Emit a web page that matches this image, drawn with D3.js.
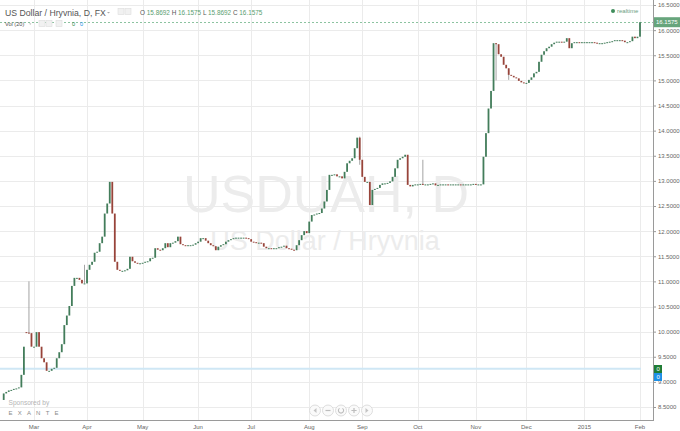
<!DOCTYPE html>
<html><head><meta charset="utf-8">
<script src="https://cdn.jsdelivr.net/npm/d3@7"></script>
<style>body{margin:0;background:#fff}svg{display:block;font-family:"Liberation Sans",Arial,sans-serif}</style>
</head><body><svg id="c" width="680" height="431"></svg>
<script>
// ---- data ----
const startDate = "2014-02-13";
const endDate = "2015-02-03";
const firstOpen = 8.64;
const closes = [
 8.77, 8.80, 8.83, 8.84, 8.86, 8.87, 8.89, 9.14, 9.70, 9.98,
 9.97, 9.70, 9.70, 9.99, 9.70, 9.47, 9.39, 9.22, 9.22, 9.26,
 9.28, 9.47, 9.59, 9.75, 10.13, 10.32, 10.51, 10.91, 11.07, 11.07,
 11.03, 10.96, 10.96, 11.23, 11.33, 11.39, 11.57, 11.59, 11.76, 11.89,
 12.35, 12.55, 12.98, 12.35, 11.39, 11.23, 11.21, 11.21, 11.22, 11.25,
 11.49, 11.40, 11.37, 11.36, 11.36, 11.37, 11.39, 11.40, 11.46, 11.47,
 11.66, 11.63, 11.62, 11.66, 11.76, 11.68, 11.76, 11.77, 11.80, 11.89,
 11.74, 11.72, 11.71, 11.72, 11.72, 11.73, 11.76, 11.79, 11.86, 11.86,
 11.81, 11.76, 11.72, 11.70, 11.62, 11.69, 11.72, 11.74, 11.79, 11.82,
 11.84, 11.86, 11.87, 11.87, 11.87, 11.87, 11.86, 11.84, 11.79, 11.78,
 11.77, 11.77, 11.76, 11.69, 11.66, 11.66, 11.65, 11.66, 11.66, 11.68,
 11.69, 11.71, 11.66, 11.65, 11.63, 11.62, 11.72, 11.82, 11.92, 12.00,
 11.96, 12.19, 12.32, 12.33, 12.35, 12.36, 12.45, 12.59, 12.82, 13.12,
 13.12, 13.13, 13.09, 13.09, 13.05, 13.18, 13.35, 13.40, 13.45, 13.65,
 13.86, 13.42, 13.08, 12.98, 12.98, 12.52, 12.82, 12.84, 12.86, 12.92,
 12.95, 12.95, 12.96, 12.99, 13.08, 13.25, 13.42, 13.45, 13.48, 13.52,
 12.92, 12.89, 12.92, 12.93, 12.93, 12.94, 12.93, 12.93, 12.93, 12.94,
 12.95, 12.91, 12.92, 12.93, 12.93, 12.93, 12.92, 12.93, 12.93, 12.93,
 12.93, 12.92, 12.93, 12.93, 12.93, 12.93, 12.94, 12.93, 12.93, 12.93,
 13.48, 13.95, 14.44, 14.79, 15.74, 15.72, 15.52, 15.47, 15.31, 15.24,
 15.11, 15.09, 15.06, 15.04, 14.99, 14.96, 14.94, 14.95, 15.01, 15.06,
 15.14, 15.17, 15.37, 15.51, 15.58, 15.64, 15.67, 15.72, 15.75, 15.77,
 15.77, 15.76, 15.77, 15.84, 15.64, 15.74, 15.76, 15.76, 15.75, 15.76,
 15.76, 15.76, 15.76, 15.76, 15.75, 15.74, 15.74, 15.74, 15.75, 15.76,
 15.77, 15.78, 15.80, 15.80, 15.80, 15.79, 15.76, 15.76, 15.78, 15.87,
 15.84, 15.8692, 16.1575
];
const gapIdx = [9];
const gapOpen = [9.99];
const wickIdx = [10, 32, 141, 166, 195, 200];
const wickHigh = [11.00, 11.33, 13.88, 13.42, 15.74, 15.11];
const wickLow = [9.97, 10.96, 13.32, 12.93, 15.00, 15.01];
const yTicks = [8.5, 9.0, 9.5, 10.0, 10.5, 11.0, 11.5, 12.0, 12.5, 13.0, 13.5, 14.0, 14.5, 15.0, 15.5, 16.0, 16.5];
const monthLabels = ["Mar","Apr","May","Jun","Jul","Aug","Sep","Oct","Nov","Dec","2015","Feb"];
const monthStarts = ["2014-03-01","2014-04-01","2014-05-01","2014-06-01","2014-07-01","2014-08-01","2014-09-01","2014-10-01","2014-11-01","2014-12-01","2015-01-01","2015-02-01"];
const ohlcLabels = ["O","H","L","C"];
const ohlcValues = ["15.8692","16.1575","15.8692","16.1575"];
const lastPrice = 16.1575;
const volValues = ["0","0"];
const volLineValue = 9.26;

// ---- build ----
const parse = d3.utcParse("%Y-%m-%d");
const dates = d3.utcDays(parse(startDate), parse(endDate)).filter(d => d.getUTCDay() % 6 !== 0);
const bars = closes.map((c, i) => {
  let o = i === 0 ? firstOpen : closes[i - 1];
  const g = gapIdx.indexOf(i);
  if (g >= 0) o = gapOpen[g];
  let h = Math.max(o, c), l = Math.min(o, c);
  const w = wickIdx.indexOf(i);
  if (w >= 0) { h = Math.max(h, wickHigh[w]); l = Math.min(l, wickLow[w]); }
  return {i, date: dates[i], o, c, h, l};
});

const W = 680, H = 431, plotR = 653, plotB = 420;
const svg = d3.select("#c");
svg.append("rect").attr("width", W).attr("height", H).attr("fill", "#fff");

const x = d3.scaleLinear().domain([12, 252]).range([34, 640]);
const y = d3.scaleLinear().domain([8.5, 16.5]).range([407, 5]);

const monthIdx = monthStarts.map(s => d3.bisectLeft(dates, parse(s)));

// grid
const grid = svg.append("g").attr("stroke", "#ebebeb").attr("stroke-width", 1);
grid.selectAll("line.h").data(yTicks).join("line")
  .attr("x1", 0).attr("x2", plotR)
  .attr("y1", d => Math.round(y(d)) + 0.5).attr("y2", d => Math.round(y(d)) + 0.5);
grid.selectAll("line.v").data(monthIdx).join("line")
  .attr("x1", d => Math.round(x(d)) + 0.5).attr("x2", d => Math.round(x(d)) + 0.5)
  .attr("y1", 0).attr("y2", plotB);

// watermark
svg.append("text").attr("x", 326).attr("y", 212).attr("text-anchor", "middle")
  .attr("font-size", 52).attr("fill", "#ececec").text("USDUAH, D");
svg.append("text").attr("x", 325).attr("y", 250).attr("text-anchor", "middle")
  .attr("font-size", 27).attr("fill", "#ececec").text("US Dollar / Hryvnia");

// volume line
svg.append("line").attr("x1", 0).attr("x2", 641)
  .attr("y1", y(volLineValue)).attr("y2", y(volLineValue))
  .attr("stroke", "#cfe7f5").attr("stroke-width", 2);

// last price line
svg.append("line").attr("x1", 0).attr("x2", plotR)
  .attr("y1", Math.round(y(lastPrice)) + 0.5).attr("y2", Math.round(y(lastPrice)) + 0.5)
  .attr("stroke", "#8cc3a0").attr("stroke-width", 1).attr("stroke-dasharray", "2,2");

// candles
const upC = "#437d5b", dnC = "#98443a";
const cg = svg.append("g");
cg.selectAll("line.w").data(bars.filter(b => b.h - b.l > Math.abs(b.o - b.c) + 0.02)).join("line")
  .attr("x1", d => x(d.i)).attr("x2", d => x(d.i))
  .attr("y1", d => y(d.h)).attr("y2", d => y(d.l))
  .attr("stroke", "#9a9a9a").attr("stroke-width", 0.9);
cg.selectAll("rect").data(bars).join("rect")
  .attr("x", d => x(d.i) - 0.9).attr("width", 1.8)
  .attr("y", d => y(Math.max(d.o, d.c)))
  .attr("height", d => Math.max(1, Math.abs(y(d.o) - y(d.c))))
  .attr("fill", d => d.c >= d.o ? upC : dnC);

// axes
svg.append("line").attr("x1", plotR + 0.5).attr("x2", plotR + 0.5).attr("y1", 0).attr("y2", plotB + 1)
  .attr("stroke", "#9a9a9a");
svg.append("line").attr("x1", 0).attr("x2", plotR + 1).attr("y1", plotB + 0.5).attr("y2", plotB + 0.5)
  .attr("stroke", "#9a9a9a");
const yAxis = d3.axisRight(y).tickValues(yTicks).tickFormat(d3.format(".4f")).tickSize(3).tickPadding(2);
const ya = svg.append("g").attr("transform", `translate(${plotR},0)`).call(yAxis);
ya.select(".domain").remove();
ya.selectAll("line").attr("stroke", "#9a9a9a");
ya.selectAll("text").attr("font-size", 6).attr("fill", "#666").attr("font-family", "Liberation Sans, Arial, sans-serif");

const xa = svg.append("g");
xa.selectAll("text").data(monthIdx).join("text")
  .attr("x", d => x(d)).attr("y", 428.5).attr("text-anchor", "middle")
  .attr("font-size", 6).attr("fill", "#666").text((d, k) => monthLabels[k]);

// volume badges
const vb = [{c: "#1f7d36", yv: 369}, {c: "#1e90e6", yv: 377}];
vb.forEach((b, k) => {
  svg.append("rect").attr("x", 654).attr("y", b.yv - 4).attr("width", 8).attr("height", 8).attr("fill", b.c);
  svg.append("text").attr("x", 656.5).attr("y", b.yv + 2).attr("font-size", 6).attr("fill", "#fff").text(volValues[k]);
});

// price badge
svg.append("rect").attr("x", 654).attr("y", y(lastPrice) - 5).attr("width", 26).attr("height", 10).attr("fill", "#67a57c");
svg.append("text").attr("x", 656).attr("y", y(lastPrice) + 2.2).attr("font-size", 6).attr("fill", "#fff").text(d3.format(".4f")(lastPrice));

// header
const hdr = svg.append("g");
hdr.append("text").attr("x", 5).attr("y", 15.5).attr("font-size", 8.7).attr("fill", "#555").text("US Dollar / Hryvnia, D, FX");
hdr.append("path").attr("d", "M107,12 l3,0 l-1.5,1.6z").attr("fill", "#aaa");
[118, 125].forEach(xx => hdr.append("rect").attr("x", xx).attr("y", 8.5).attr("width", 6).attr("height", 6)
  .attr("fill", "#f1f1f1").attr("stroke", "#ddd").attr("stroke-width", 0.6));
const t = hdr.append("text").attr("x", 140).attr("y", 14.5).attr("font-size", 6.4);
ohlcLabels.forEach((l, k) => {
  t.append("tspan").attr("fill", "#555").text((k ? " " : "") + l + " ");
  t.append("tspan").attr("fill", "#5a9e70").text(ohlcValues[k]);
});
hdr.append("text").attr("x", 5).attr("y", 26).attr("font-size", 5.6).attr("fill", "#555").text("Vol (20)");
hdr.append("path").attr("d", "M29,23.5 l2.4,0 l-1.2,1.3z").attr("fill", "#aaa");
[39, 46, 56].forEach(xx => hdr.append("rect").attr("x", xx).attr("y", 20.5).attr("width", 6).attr("height", 6)
  .attr("fill", "#f1f1f1").attr("stroke", "#ddd").attr("stroke-width", 0.6));
hdr.append("text").attr("x", 72).attr("y", 26).attr("font-size", 5.6).attr("fill", "#2e8b4a").text(volValues[0]);
hdr.append("text").attr("x", 80).attr("y", 26).attr("font-size", 5.6).attr("fill", "#1e90e6").text(volValues[1]);

// realtime
svg.append("circle").attr("cx", 613).attr("cy", 11).attr("r", 2).attr("fill", "#3f8d5c");
svg.append("text").attr("x", 617).attr("y", 13).attr("font-size", 6).attr("fill", "#6aa07f").text("realtime");

// sponsor
svg.append("text").attr("x", 8.5).attr("y", 405).attr("font-size", 6.6).attr("fill", "#b5b5b5").text("Sponsored by");
svg.append("text").attr("x", 8.5).attr("y", 414.5).attr("font-size", 6).attr("letter-spacing", 5.2).attr("fill", "#8a8a8a").text("EXANTE");

// nav buttons
const navX = [315, 328, 341, 354, 367];
const ng = svg.append("g");
navX.forEach((cx, k) => {
  ng.append("circle").attr("cx", cx).attr("cy", 410.5).attr("r", 5.5).attr("fill", "#fafafa").attr("stroke", "#d6d6d6").attr("stroke-width", 0.8);
});
ng.append("path").attr("d", `M${navX[0]+1.5},408 l-3,2.5 l3,2.5z`).attr("fill", "#c4c4c4");
ng.append("path").attr("d", `M${navX[1]-2.5},410.5 h5`).attr("stroke", "#bdbdbd").attr("stroke-width", 1.2);
ng.append("path").attr("d", d3.arc()({innerRadius: 2.6, outerRadius: 2.6, startAngle: 0.6, endAngle: 2 * Math.PI - 0.6}))
  .attr("transform", `translate(${navX[2]},410.5)`).attr("fill", "none").attr("stroke", "#bdbdbd").attr("stroke-width", 1.1);
ng.append("path").attr("d", `M${navX[3]-2.6},410.5 h5.2 M${navX[3]},407.9 v5.2`).attr("stroke", "#bdbdbd").attr("stroke-width", 1.2);
ng.append("path").attr("d", `M${navX[4]-1.5},408 l3,2.5 l-3,2.5z`).attr("fill", "#c4c4c4");
</script></body></html>
